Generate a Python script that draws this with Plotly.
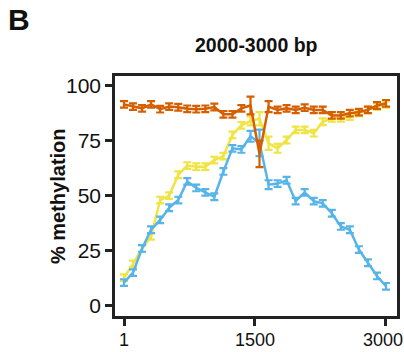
import plotly.graph_objects as go

# Bin centres along the 2000-3000 bp window (30 bins)
positions = [1, 104, 208, 311, 415, 518, 622, 725, 828, 932, 1035, 1139, 1242, 1345, 1449,
             1552, 1656, 1759, 1862, 1966, 2069, 2173, 2276, 2380, 2483, 2586, 2690, 2793, 2897, 3000]

# Mean % methylation per bin
orange_vals = [91.5, 90.5, 89.7, 91.5, 89.3, 90.5, 90.2, 89.5, 89.3, 89.5, 90.3, 87.0, 87.0, 89.7, 91.0,
               69.0, 90.5, 89.0, 89.7, 89.0, 90.0, 89.0, 89.0, 86.5, 86.5, 87.5, 88.0, 89.0, 91.0, 92.0]
yellow_vals = [12.7, 19.0, 26.0, 31.5, 48.0, 50.0, 59.5, 63.7, 63.2, 63.2, 66.2, 68.0, 77.6, 82.0, 84.0,
               85.0, 73.8, 71.5, 75.3, 79.9, 79.9, 78.4, 83.6, 85.2, 85.2, 86.0, 87.5, 89.0, 90.5, 91.5]
blue_vals = [10.5, 15.0, 26.0, 34.5, 39.0, 44.5, 48.0, 56.5, 53.5, 51.5, 49.5, 61.0, 71.5, 71.0, 77.0,
             74.0, 55.0, 55.5, 57.0, 47.5, 51.5, 47.5, 46.5, 42.0, 36.0, 34.5, 25.5, 19.5, 13.5, 8.8]

# Standard errors per bin
orange_err = [1.5, 1.5, 1.5, 1.5, 1.5, 1.5, 1.5, 1.5, 1.5, 1.5, 1.5, 1.5, 1.5, 1.5, 4.0,
              6.0, 2.5, 1.5, 1.5, 1.5, 1.5, 1.5, 1.5, 1.5, 1.5, 1.5, 1.5, 1.5, 1.5, 1.5]
yellow_err = [1.5, 1.5, 1.5, 1.5, 1.5, 1.5, 1.5, 1.5, 1.5, 1.5, 1.5, 1.5, 1.5, 1.5, 2.0,
              3.0, 3.0, 2.0, 1.5, 1.5, 1.5, 1.5, 1.5, 1.5, 1.5, 1.5, 1.5, 1.5, 1.5, 1.5]
blue_err = [1.5, 1.5, 1.5, 1.5, 1.5, 1.5, 1.5, 1.5, 1.5, 1.5, 1.5, 1.5, 1.5, 1.5, 2.5,
            6.0, 2.0, 1.5, 1.5, 1.5, 1.5, 1.5, 1.5, 1.5, 1.5, 1.5, 1.5, 1.5, 1.5, 1.5]

y_ticks = [0, 25, 50, 75, 100]
x_ticks = [1, 1500, 3000]
x_tick_labels = ["1", "1500", "3000"]

FONT = "Liberation Sans, Arial, sans-serif"

series = [
    (yellow_vals, yellow_err, "#F0E442"),
    (blue_vals, blue_err, "#56B4E9"),
    (orange_vals, orange_err, "#D55E00"),
]

fig = go.Figure()
for vals, err, col in series:
    fig.add_trace(go.Scatter(
        x=positions, y=vals, mode="lines",
        line=dict(color=col, width=2.5),
        error_y=dict(type="data", array=err, color=col, thickness=2.2, width=4),
        showlegend=False,
    ))

axis_common = dict(
    showline=True, linecolor="#222", linewidth=2.5, mirror=True,
    ticks="outside", ticklen=7, tickwidth=2.5, tickcolor="#222",
    showgrid=False, zeroline=False, automargin=False,
)

# x tick labels are placed as annotations so the rightmost one stays inside the page
fig.update_xaxes(range=[-102, 3126], tickvals=x_ticks, showticklabels=False, **axis_common)
fig.update_yaxes(range=[-4.7, 104.4], tickvals=y_ticks, **axis_common,
                 tickfont=dict(family=FONT, size=21, color="#111"))

for xv, lab in zip(x_ticks, x_tick_labels):
    fig.add_annotation(text=lab, xref="x", yref="paper", x=xv, y=0, yanchor="top", yshift=-12,
                       xshift=-3 if xv == x_ticks[-1] else 0, showarrow=False,
                       font=dict(family=FONT, size=18, color="#111"))

fig.add_annotation(text="<b>% methylation</b>", xref="paper", yref="paper", x=-0.202, y=0.5,
                   textangle=-90, xanchor="center", yanchor="middle", showarrow=False,
                   font=dict(family=FONT, size=20, color="#111"))
fig.add_annotation(text="<b>2000-3000 bp</b>", xref="paper", yref="paper", x=0.5, y=1.0,
                   yanchor="middle", yshift=31, showarrow=False,
                   font=dict(family=FONT, size=19.5, color="#111"))
fig.add_annotation(text="<b>B</b>", xref="paper", yref="paper", x=-0.385, y=1.0, yshift=57,
                   xanchor="left", yanchor="middle", showarrow=False,
                   font=dict(family=FONT, size=30, color="#111"))

fig.update_layout(
    width=404, height=352,
    margin=dict(l=115, r=7, t=76, b=36),
    paper_bgcolor="white", plot_bgcolor="white",
)

fig.write_html("out.html")
